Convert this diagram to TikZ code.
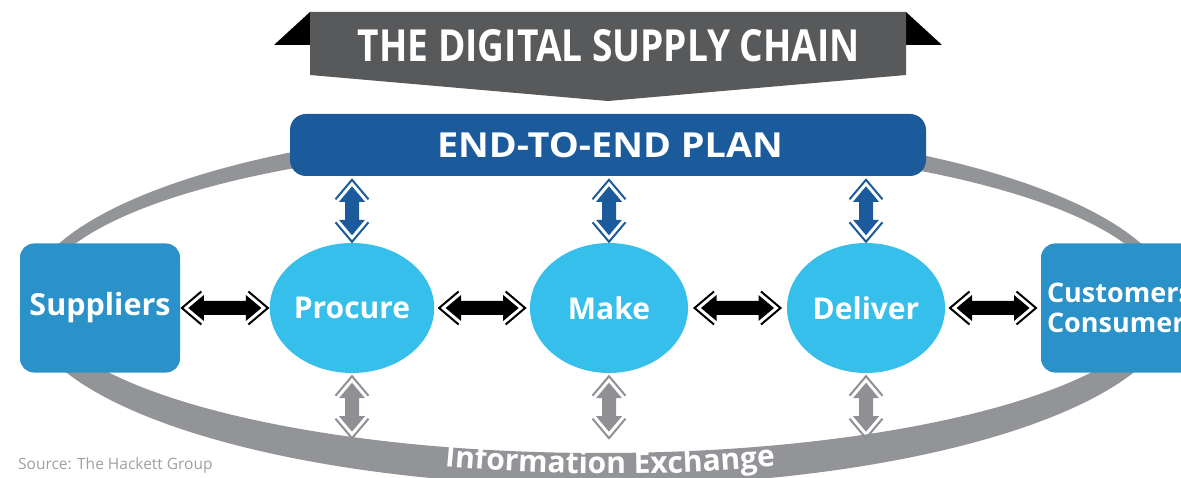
\documentclass[tikz,border=0pt]{standalone}
\usepackage{fontspec}
\setmainfont{Open Sans}
\usetikzlibrary{shapes.geometric,calc,decorations.text}
\definecolor{planblue}{HTML}{1C5B9B}
\definecolor{boxblue}{HTML}{2A92C8}
\definecolor{circblue}{HTML}{36BFEA}
\definecolor{ringgray}{HTML}{929497}
\definecolor{bannergray}{HTML}{58595B}
\definecolor{arrowgray}{HTML}{8F9093}
\definecolor{srcgray}{HTML}{A0A0A0}
\tikzset{
  pics/dbl/.style n args={2}{code={
    \fill[#2] (-#1+6.5,0) -- (-#1+22,13) -- (-#1+22,7) -- (#1-22,7) -- (#1-22,13) -- (#1-6.5,0)
      -- (#1-22,-13) -- (#1-22,-7) -- (-#1+22,-7) -- (-#1+22,-13) -- cycle;
    \draw[#2,line width=2pt,line join=miter] (-#1+19.5,16.5) -- (-#1,0) -- (-#1+19.5,-16.5);
    \draw[#2,line width=2pt,line join=miter] (#1-19.5,16.5) -- (#1,0) -- (#1-19.5,-16.5);
  }},
  sidebox/.style={fill=boxblue, rounded corners=14pt, minimum width=160pt, minimum height=129pt,
    inner sep=0pt, text=white, font=\bfseries\fontsize{30.5}{33}\selectfont},
  stagecirc/.style={ellipse, fill=circblue, minimum width=158pt, minimum height=130pt, inner sep=0pt,
    text=white, font=\bfseries\fontsize{30}{30}\selectfont},
  planbox/.style={fill=planblue, rounded corners=16pt, minimum width=636pt, minimum height=62pt,
    inner sep=0pt, text=white},
}
\begin{document}
\begin{tikzpicture}[x=1pt,y=1pt]
\useasboundingbox (0,0) rectangle (1181,-478);
\clip (0,0) rectangle (1181,-478);
\fill[white] (0,0) rectangle (1181,-478);

% banner
\fill[black] (274,-45) -- (310,-12) -- (310,-45) -- cycle;
\fill[black] (942,-45) -- (906,-12) -- (906,-45) -- cycle;
\fill[bannergray] (310,-12) -- (906,-12) -- (906,-75) -- (608,-101) -- (310,-75) -- cycle;
\node[anchor=base, inner sep=0pt, text=white] (title) at (609,-62)
  {\resizebox{502pt}{32pt}{\bfseries THE DIGITAL SUPPLY CHAIN}};

% ring
\fill[ringgray, even odd rule] (600,-305) ellipse [x radius=575, y radius=181]
  (600,-298) ellipse [x radius=560, y radius=155];
\path[decorate, decoration={text along path, text align=center, text color=white,
  text={|\bfseries\fontsize{30}{30}\selectfont|Information Exchange}}]
  (416.4,-463.5) arc[start angle=250, end angle=290, x radius=566, y radius=173];

% plan
\node[planbox] (plan) at (608,-145) {};
\node[anchor=base, inner sep=0pt, text=white] (plantext) at (610,-158)
  {\resizebox{346pt}{25pt}{\bfseries END-TO-END PLAN}};

% side boxes
\node[sidebox] (sup) at (100,-308) {Suppliers};
\node[sidebox, minimum width=170pt, text width=158pt, align=left,
  font=\bfseries\fontsize{27}{30}\selectfont] (cust) at (1126,-308) {Customers\\Consumers};

% stages
\node[stagecirc] (proc) at (352,-308) {Procure};
\node[stagecirc] (make) at (609,-308) {Make};
\node[stagecirc] (deli) at (866,-308) {Deliver};

% horizontal arrows
\pic at ($(sup.east)!.5!(proc.west)$) {dbl={43}{black}};
\pic at ($(proc.east)!.5!(make.west)$) {dbl={43}{black}};
\pic at ($(make.east)!.5!(deli.west)$) {dbl={43}{black}};
\pic at ($(deli.east)!.5!(cust.west)$) {dbl={43}{black}};

% vertical arrows
\foreach \n in {proc,make,deli}{
  \pic[rotate=90] at ($(\n.north)+(0,32)$) {dbl={31}{planblue}};
  \pic[rotate=90] at ($(\n.south)+(0,-34)$) {dbl={31}{arrowgray}};
}

\node[anchor=base west, inner sep=0pt, text=srcgray, font=\fontsize{15.5}{15.5}\selectfont] (src)
  at (18,-469) {Source: The Hackett Group};
\end{tikzpicture}
\end{document}
